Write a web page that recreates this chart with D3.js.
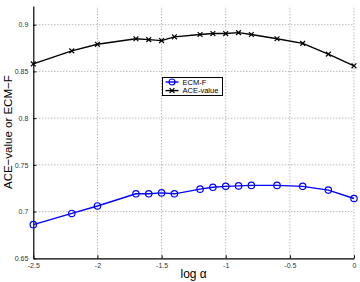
<!DOCTYPE html>
<html><head><meta charset="utf-8">
<script src="https://cdn.jsdelivr.net/npm/d3@7"></script>
<style>body{margin:0;background:#fff}svg{display:block}</style>
</head><body>
<svg id="c" width="360" height="282"></svg>
<script>
const logAlpha = [-2.5,-2.2,-2,-1.7,-1.6,-1.5,-1.4,-1.2,-1.1,-1,-0.9,-0.8,-0.6,-0.4,-0.2,0];
const ecmF     = [0.686,0.698,0.706,0.719,0.719,0.720,0.719,0.724,0.726,0.727,0.7275,0.728,0.728,0.727,0.723,0.714];
const aceValue = [0.858,0.872,0.879,0.885,0.884,0.883,0.887,0.8895,0.8905,0.8905,0.8915,0.8895,0.885,0.880,0.8685,0.856];
const xTicks = [-2.5,-2,-1.5,-1,-0.5,0];
const xTickLabels = ["-2.5","-2","-1.5","-1","-0.5","0"];
const yTicks = [0.65,0.7,0.75,0.8,0.85,0.9];
const yTickLabels = ["0.65","0.7","0.75","0.8","0.85","0.9"];
const seriesNames = ["ECM-F","ACE-value"];

const svg = d3.select("#c");
const L=33.3, R=354, T=6, B=258.3;
const x = d3.scaleLinear().domain([-2.5,0]).range([L,R]);
const y = d3.scaleLinear().domain([0.65,0.92]).range([B,T]);
const font = "Liberation Sans, Arial, Helvetica, sans-serif";

// grid
const g = svg.append("g");
g.selectAll(".gx").data(xTicks.slice(1)).join("line")
 .attr("x1",d=>x(d)).attr("x2",d=>x(d)).attr("y1",B).attr("y2",T)
 .attr("stroke","#999").attr("stroke-width",1).attr("stroke-dasharray","1,2");
g.selectAll(".gy").data(yTicks.slice(1)).join("line")
 .attr("x1",L).attr("x2",R).attr("y1",d=>y(d)).attr("y2",d=>y(d))
 .attr("stroke","#999").attr("stroke-width",1).attr("stroke-dasharray","1,2");

// axes
const xAxis = d3.axisBottom(x).tickValues(xTicks).tickFormat((d,i)=>xTickLabels[i]).tickSizeInner(-3).tickSizeOuter(0).tickPadding(6);
const yAxis = d3.axisLeft(y).tickValues(yTicks).tickFormat((d,i)=>yTickLabels[i]).tickSizeInner(-3).tickSizeOuter(0).tickPadding(5);
const gx = svg.append("g").attr("transform",`translate(0,${B})`).call(xAxis);
const gy = svg.append("g").attr("transform",`translate(${L},0)`).call(yAxis);
[gx,gy].forEach(a=>{
  a.select(".domain").attr("stroke","#000").attr("stroke-width",1.2);
  a.selectAll(".tick line").attr("stroke","#000");
  a.selectAll(".tick text").attr("font-family",font).attr("font-size",7).attr("fill","#333");
});
gx.selectAll(".tick text").attr("dy","0.5em");

// lines
const line = d3.line().x((d,i)=>x(logAlpha[i])).y(d=>y(d));
svg.append("path").datum(aceValue).attr("d",line).attr("fill","none").attr("stroke","#000").attr("stroke-width",1.4);
svg.append("path").datum(ecmF).attr("d",line).attr("fill","none").attr("stroke","#0000ff").attr("stroke-width",1.4);

// markers
const s=2.4;
const xm = (sel)=>sel.attr("d",`M${-s},${-s}L${s},${s}M${-s},${s}L${s},${-s}`).attr("stroke","#000").attr("stroke-width",1.2).attr("fill","none");
svg.append("g").selectAll("path").data(aceValue).join("path")
 .attr("transform",(d,i)=>`translate(${x(logAlpha[i])},${y(d)})`).call(xm);
svg.append("g").selectAll("circle").data(ecmF).join("circle")
 .attr("cx",(d,i)=>x(logAlpha[i])).attr("cy",d=>y(d)).attr("r",3.2)
 .attr("fill","none").attr("stroke","#0000ff").attr("stroke-width",1.2);

// legend
const lg = svg.append("g").attr("transform","translate(162.5,77.5)");
lg.append("rect").attr("width",60).attr("height",18).attr("fill","#fff").attr("stroke","#000").attr("stroke-width",1);
const colors=["#0000ff","#000"];
seriesNames.forEach((n,i)=>{
  const yy = 4.5+i*8.6;
  lg.append("line").attr("x1",3).attr("x2",16).attr("y1",yy).attr("y2",yy).attr("stroke",colors[i]).attr("stroke-width",1.4);
  if(i===0) lg.append("circle").attr("cx",9.5).attr("cy",yy).attr("r",3).attr("fill","none").attr("stroke",colors[i]).attr("stroke-width",1.2);
  else lg.append("path").attr("transform",`translate(9.5,${yy})`).call(xm);
  lg.append("text").attr("x",20).attr("y",yy).attr("dy","0.35em").attr("font-family",font).attr("font-size",7.5).attr("fill","#000").text(n);
});

// labels
svg.append("text").attr("x",(L+R)/2).attr("y",278).attr("text-anchor","middle").attr("font-family",font).attr("font-size",12).text("log α");
svg.append("text").attr("transform",`translate(12,${(T+B)/2}) rotate(-90)`).attr("text-anchor","middle").attr("font-family",font).attr("font-size",11.5).text("ACE−value or ECM−F");
</script>
</body></html>
